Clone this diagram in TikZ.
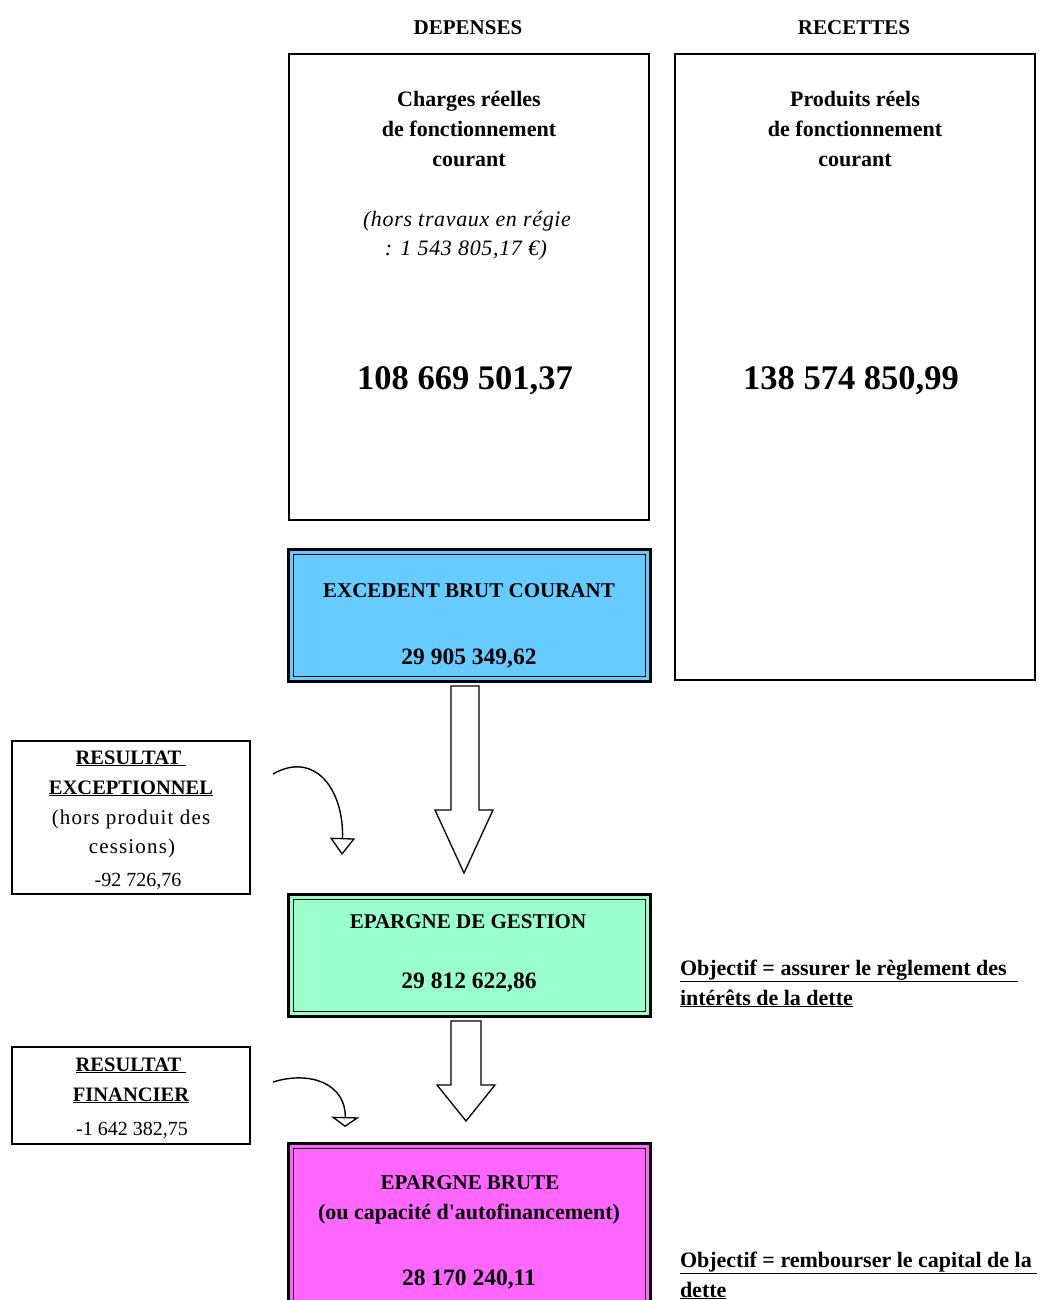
\documentclass[tikz,border=0pt]{standalone}
\usepackage{fontspec}
\setmainfont{Liberation Serif}
\usetikzlibrary{calc,arrows.meta}
\definecolor{ebcblue}{HTML}{66CCFF}
\definecolor{edgmint}{HTML}{99FFCC}
\definecolor{ebpink}{HTML}{FF66FF}
\newcommand{\fsz}[1]{\fontsize{#1}{#1}\selectfont}
\begin{document}
\begin{tikzpicture}[x=1pt,y=-1pt,
  every node/.style={inner sep=0pt,outer sep=0pt},
  txt/.style={anchor=base,align=center},
  plainbox/.style={draw=black,line width=2pt,fill=white},
  dblbox/.style={draw=black,line width=3pt,minimum width=362pt},
  hollow/.style={draw=black,line width=1.3pt,fill=white,line join=miter},
  curvearrow/.style={draw=black,line width=1.4pt},
  bt/.style={font=\bfseries\fsz{21}},
  bm/.style={font=\bfseries\fsz{22}},
  bn/.style={font=\bfseries\fsz{23.5}}
]
\useasboundingbox (0,0) rectangle (1042,1300);
\clip (0,0) rectangle (1042,1300);

% column headings
\node[txt,bt] (dep) at (468,35) {DEPENSES};
\node[txt,bt] (rec) at (854,35) {RECETTES};

% big boxes
\node[plainbox,minimum width=360pt,minimum height=466pt] (charges) at (469,287) {};
\node[plainbox,minimum width=360pt,minimum height=626pt] (produits) at (855,367) {};

\node[txt,bm] (ch1) at (469,107) {Charges réelles};
\node[txt,bm] (ch2) at (469,137) {de fonctionnement};
\node[txt,bm] (ch3) at (469,167) {courant};
\node[txt,font=\itshape\fsz{22}\addfontfeature{LetterSpace=3}] (ch4) at (467,226) {(hors travaux en régie};
\node[txt,font=\itshape\fsz{22}\addfontfeature{LetterSpace=3}] (ch5) at (466,255) {: 1 543 805,17 €)};
\node[txt,font=\bfseries\fsz{34.5}] (chv) at (465,389.5) {108 669 501,37};

\node[txt,bm] (pr1) at (855,107) {Produits réels};
\node[txt,bm] (pr2) at (855,137) {de fonctionnement};
\node[txt,bm] (pr3) at (855,167) {courant};
\node[txt,font=\bfseries\fsz{34.5}] (prv) at (851,389.5) {138 574 850,99};

% double-border boxes
\node[dblbox,fill=ebcblue,minimum height=132pt] (ebc) at (469,615) {};
\node[dblbox,fill=edgmint,minimum height=122pt] (edg) at (469,955) {};
\node[dblbox,fill=ebpink,minimum height=177pt] (eb) at (469,1231.5) {};
\foreach \b in {ebc,edg,eb}{
  \draw[line width=1pt] ($(\b.north west)+(5,5)$) rectangle ($(\b.south east)+(-5,-5)$);
}

\node[txt,bt] (ebct) at (469,597) {EXCEDENT BRUT COURANT};
\node[txt,bn] (ebcv) at (469,664) {29 905 349,62};
\node[txt,bt] (edgt) at (468,928) {EPARGNE DE GESTION};
\node[txt,bn] (edgv) at (469,988) {29 812 622,86};
\node[txt,bt] (ebt) at (470,1189) {EPARGNE BRUTE};
\node[txt,bm] (ebs) at (469,1219) {(ou capacité d\textquotesingle autofinancement)};
\node[txt,bn] (ebv) at (469,1285) {28 170 240,11};

% hollow arrows
\coordinate (a1t) at ($(ebc.south)+(-4,5)$);
\coordinate (a1h) at ($(edg.north)+(-5,-21)$);
\draw[hollow] ($(a1t)+(-14,0)$) -- ($(a1h)+(-13,-63)$) -- ($(a1h)+(-29,-63)$) -- (a1h)
  -- ($(a1h)+(29,-63)$) -- ($(a1h)+(15,-63)$) -- ($(a1t)+(14,0)$) -- cycle;
\coordinate (a2t) at ($(edg.south)+(-3,5)$);
\coordinate (a2h) at ($(eb.north)+(-3,-22)$);
\draw[hollow] ($(a2t)+(-15,0)$) -- ($(a2h)+(-15,-36)$) -- ($(a2h)+(-29,-36)$) -- (a2h)
  -- ($(a2h)+(29,-36)$) -- ($(a2h)+(15,-36)$) -- ($(a2t)+(15,0)$) -- cycle;

% left boxes
\node[plainbox,minimum width=238pt,minimum height=153pt] (rex) at (131,817.5) {};
\node[txt,font=\bfseries\fsz{20.5}] (rex1) at (131,764) {\underline{RESULTAT\ }};
\node[txt,font=\bfseries\fsz{20.5}] (rex2) at (131,794) {\underline{EXCEPTIONNEL}};
\node[txt,font=\fsz{21}\addfontfeature{LetterSpace=5.5}] (rex3) at (131,824) {(hors produit des};
\node[txt,font=\fsz{21}\addfontfeature{LetterSpace=5.5}] (rex4) at (132,853) {cessions)};
\node[txt,font=\fsz{20}] (rex5) at (138,886) {-92 726,76};

\node[plainbox,minimum width=238pt,minimum height=97pt] (rfi) at (131,1095.5) {};
\node[txt,font=\bfseries\fsz{20.5}] (rfi1) at (131,1071) {\underline{RESULTAT\ }};
\node[txt,font=\bfseries\fsz{20.5}] (rfi2) at (131,1101) {\underline{FINANCIER}};
\node[txt,font=\fsz{20}] (rfi3) at (132,1135) {-1 642 382,75};

% curved arrows
\coordinate (c1s) at ($(rex.north east)+(23,33)$);
\coordinate (c1e) at ($(edg.north west)+(54,-39)$);
\draw[curvearrow,-{Triangle[open,length=17pt,width=25pt,line width=1.3pt]}]
  (c1s) .. controls (315,750) and (344,790) .. (c1e);
\coordinate (c2s) at ($(rfi.north east)+(23,35)$);
\coordinate (c2e) at ($(eb.north west)+(57,-16)$);
\draw[curvearrow,-{Triangle[open,length=10pt,width=28pt,line width=1.3pt]}]
  (c2s) .. controls (312,1070) and (346,1085) .. (c2e);

% objectives
\node[txt,bm,anchor=base west] (obj1a) at (680,975) {\underline{Objectif = assurer le règlement des\ \ }};
\node[txt,bm,anchor=base west] (obj1b) at (680,1005) {\underline{intérêts de la dette}};
\node[txt,bm,anchor=base west] (obj2a) at (680,1267) {\underline{Objectif = rembourser le capital de la\ }};
\node[txt,bm,anchor=base west] (obj2b) at (680,1297) {\underline{dette}};
\end{tikzpicture}
\end{document}
